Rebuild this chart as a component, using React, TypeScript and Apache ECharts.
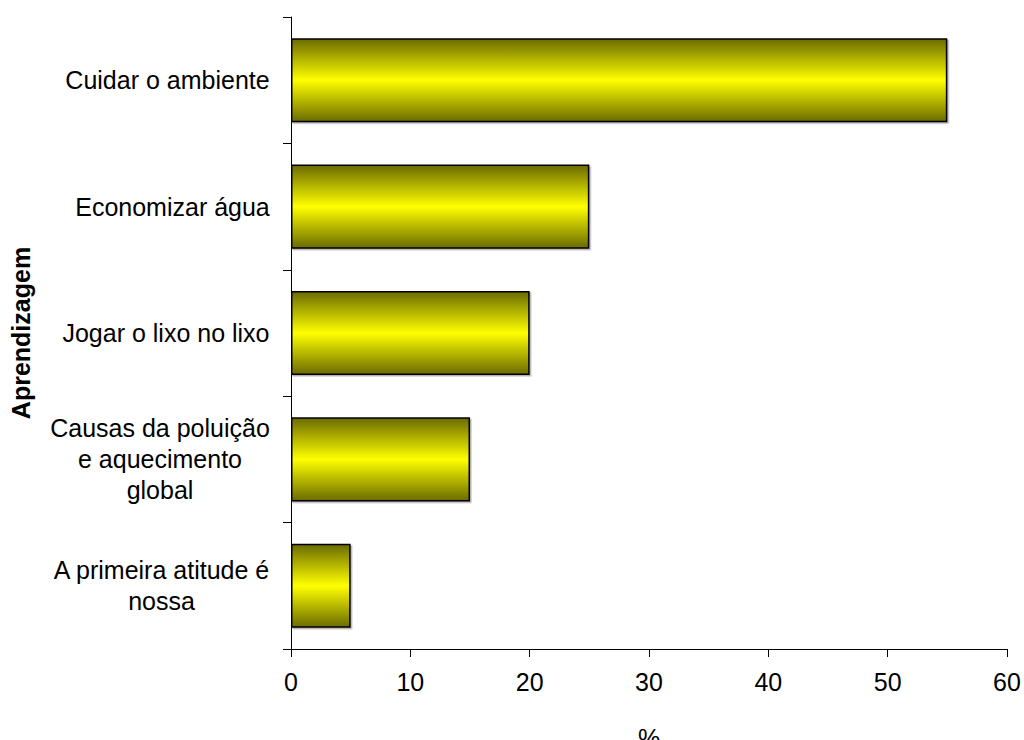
import React, { useEffect, useRef } from "react";
import * as echarts from "echarts";

const categories: string[][] = [
  ["Cuidar o ambiente"],
  ["Economizar água"],
  ["Jogar o lixo no lixo"],
  ["Causas da poluição", "e aquecimento", "global"],
  ["A primeira atitude é", "nossa"],
];
const values: number[] = [55, 25, 20, 15, 5];
const xTicks = { min: 0, max: 60, interval: 10 };
const xAxisTitle = "%";
const yAxisTitle = "Aprendizagem";

const FONT = "Arial, 'Liberation Sans', sans-serif";
const FONT_SIZE = 25;

function measure(text: string): number {
  const ctx = document.createElement("canvas").getContext("2d");
  if (!ctx) return text.length * FONT_SIZE * 0.5;
  ctx.font = `${FONT_SIZE}px ${FONT}`;
  return Math.ceil(ctx.measureText(text).width);
}

export default function App() {
  const ref = useRef<HTMLDivElement>(null);

  useEffect(() => {
    document.body.style.margin = "0";
    document.body.style.overflow = "hidden";
    if (!ref.current) return;
    const chart = echarts.init(ref.current, null, { renderer: "svg" });

    // multi-line labels: lines centred within the block, block right-aligned to the axis
    const rich: Record<string, any> = {};
    const labelData = categories.map((lines, i) => {
      const key = `c${i}`;
      const w = Math.max(...lines.map(measure));
      rich[key] = {
        width: w,
        align: "center",
        fontSize: FONT_SIZE,
        fontFamily: FONT,
        color: "#000",
        lineHeight: 31,
      };
      return lines.map((l) => `{${key}|${l}}`).join("\n");
    });

    const barGradient = new echarts.graphic.LinearGradient(0, 0, 0, 1, [
      { offset: 0, color: "#6b6b00" },
      { offset: 0.5, color: "#ffff00" },
      { offset: 1, color: "#6b6b00" },
    ]);

    chart.setOption({
      animation: false,
      backgroundColor: "#fff",
      grid: {
        left: 291,
        right: 17,
        top: 17,
        bottom: 91,
        containLabel: false,
        outerBoundsMode: "none",
      },
      xAxis: {
        type: "value",
        min: xTicks.min,
        max: xTicks.max,
        interval: xTicks.interval,
        name: xAxisTitle,
        nameLocation: "middle",
        nameGap: 76,
        nameTextStyle: { fontSize: FONT_SIZE, fontFamily: FONT, color: "#000" },
        axisLine: { show: true, lineStyle: { color: "#000", width: 1 } },
        axisTick: { show: true, length: 8, lineStyle: { color: "#000" } },
        axisLabel: { fontSize: FONT_SIZE, fontFamily: FONT, color: "#000", margin: 20 },
        splitLine: { show: false },
      },
      yAxis: {
        type: "category",
        inverse: true,
        data: labelData,
        name: yAxisTitle,
        nameLocation: "middle",
        nameRotate: 90,
        nameGap: 258,
        nameTextStyle: {
          fontSize: 25,
          fontWeight: "bold",
          fontFamily: FONT,
          color: "#000",
        },
        axisLine: { show: true, lineStyle: { color: "#000", width: 1 } },
        axisTick: { show: true, length: 8, lineStyle: { color: "#000" } },
        axisLabel: { margin: 21, rich, align: "right" },
      },
      series: [
        {
          type: "bar",
          data: values,
          barCategoryGap: "33.5%",
          itemStyle: {
            color: barGradient,
            borderColor: "#000",
            borderWidth: 1.5,
            shadowColor: "rgba(0,0,0,0.3)",
            shadowOffsetX: 1.5,
            shadowOffsetY: 1.5,
            shadowBlur: 0,
          },
        },
      ],
    });

    return () => chart.dispose();
  }, []);

  return <div ref={ref} style={{ width: 1024, height: 740 }} />;
}
